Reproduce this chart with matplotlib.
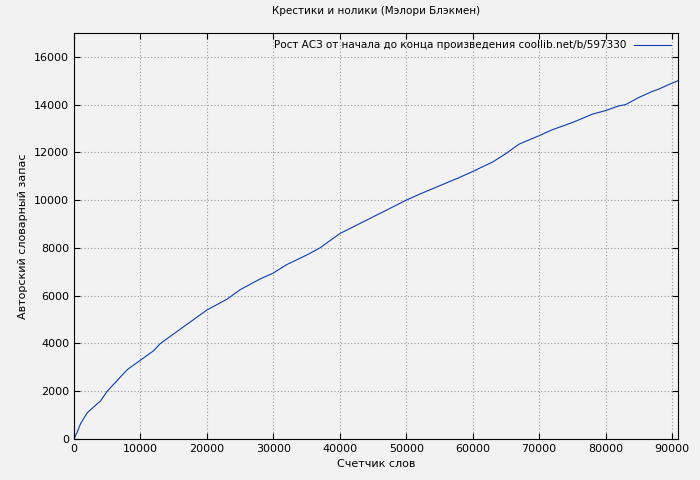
import matplotlib
matplotlib.use("Agg")
import matplotlib.pyplot as plt

# curve
WORDS = [0, 500, 1000, 2000, 3000, 4000, 5000, 6500, 8000, 10000, 12000, 13000,
         16000, 20000, 23000, 25000, 28000, 30000, 32000, 35000, 37000, 40000,
         45000, 50000, 52000, 55000, 58000, 60000, 63000, 65000, 67000, 70000,
         72000, 75000, 78000, 80000, 82000, 83000, 85000, 87000, 88000, 90000, 90900]
VOCAB = [0, 300, 650, 1100, 1350, 1600, 2000, 2450, 2900, 3300, 3700, 4000,
         4600, 5400, 5850, 6250, 6700, 6950, 7300, 7700, 8000, 8600,
         9300, 10000, 10250, 10600, 10950, 11200, 11600, 11950, 12350, 12700,
         12950, 13250, 13600, 13750, 13950, 14000, 14300, 14550, 14650, 14900, 15000]

BG = "#f2f2f2"
fig = plt.figure(figsize=(7, 4.8), dpi=100, facecolor=BG)
ax = fig.add_axes([74 / 700, 41 / 480, 604 / 700, 406 / 480], facecolor=BG)

ax.plot(WORDS, VOCAB, color="#0a3cb4", lw=0.8,
        label="Рост АСЗ от начала до конца произведения coollib.net/b/597330")
ax.set_xlim(0, 90900)
ax.set_ylim(0, 17000)
ax.set_xticks(range(0, 90001, 10000))
ax.set_yticks(range(0, 16001, 2000))
ax.grid(True, color="#999999", ls=(0, (1, 2)), lw=0.8)
ax.tick_params(labelsize=8, direction="in", length=4, top=True, right=True)
ax.set_xlabel("Счетчик слов", fontsize=8)
ax.set_ylabel("Авторский словарный запас", fontsize=8)
ax.set_title("Крестики и нолики (Мэлори Блэкмен)", fontsize=7.5, pad=14)
leg = ax.legend(loc="upper right", fontsize=7.5, frameon=False, markerfirst=False,
                handlelength=3.5, borderaxespad=0.3)

fig.savefig("out.png", dpi=100, facecolor=BG)
